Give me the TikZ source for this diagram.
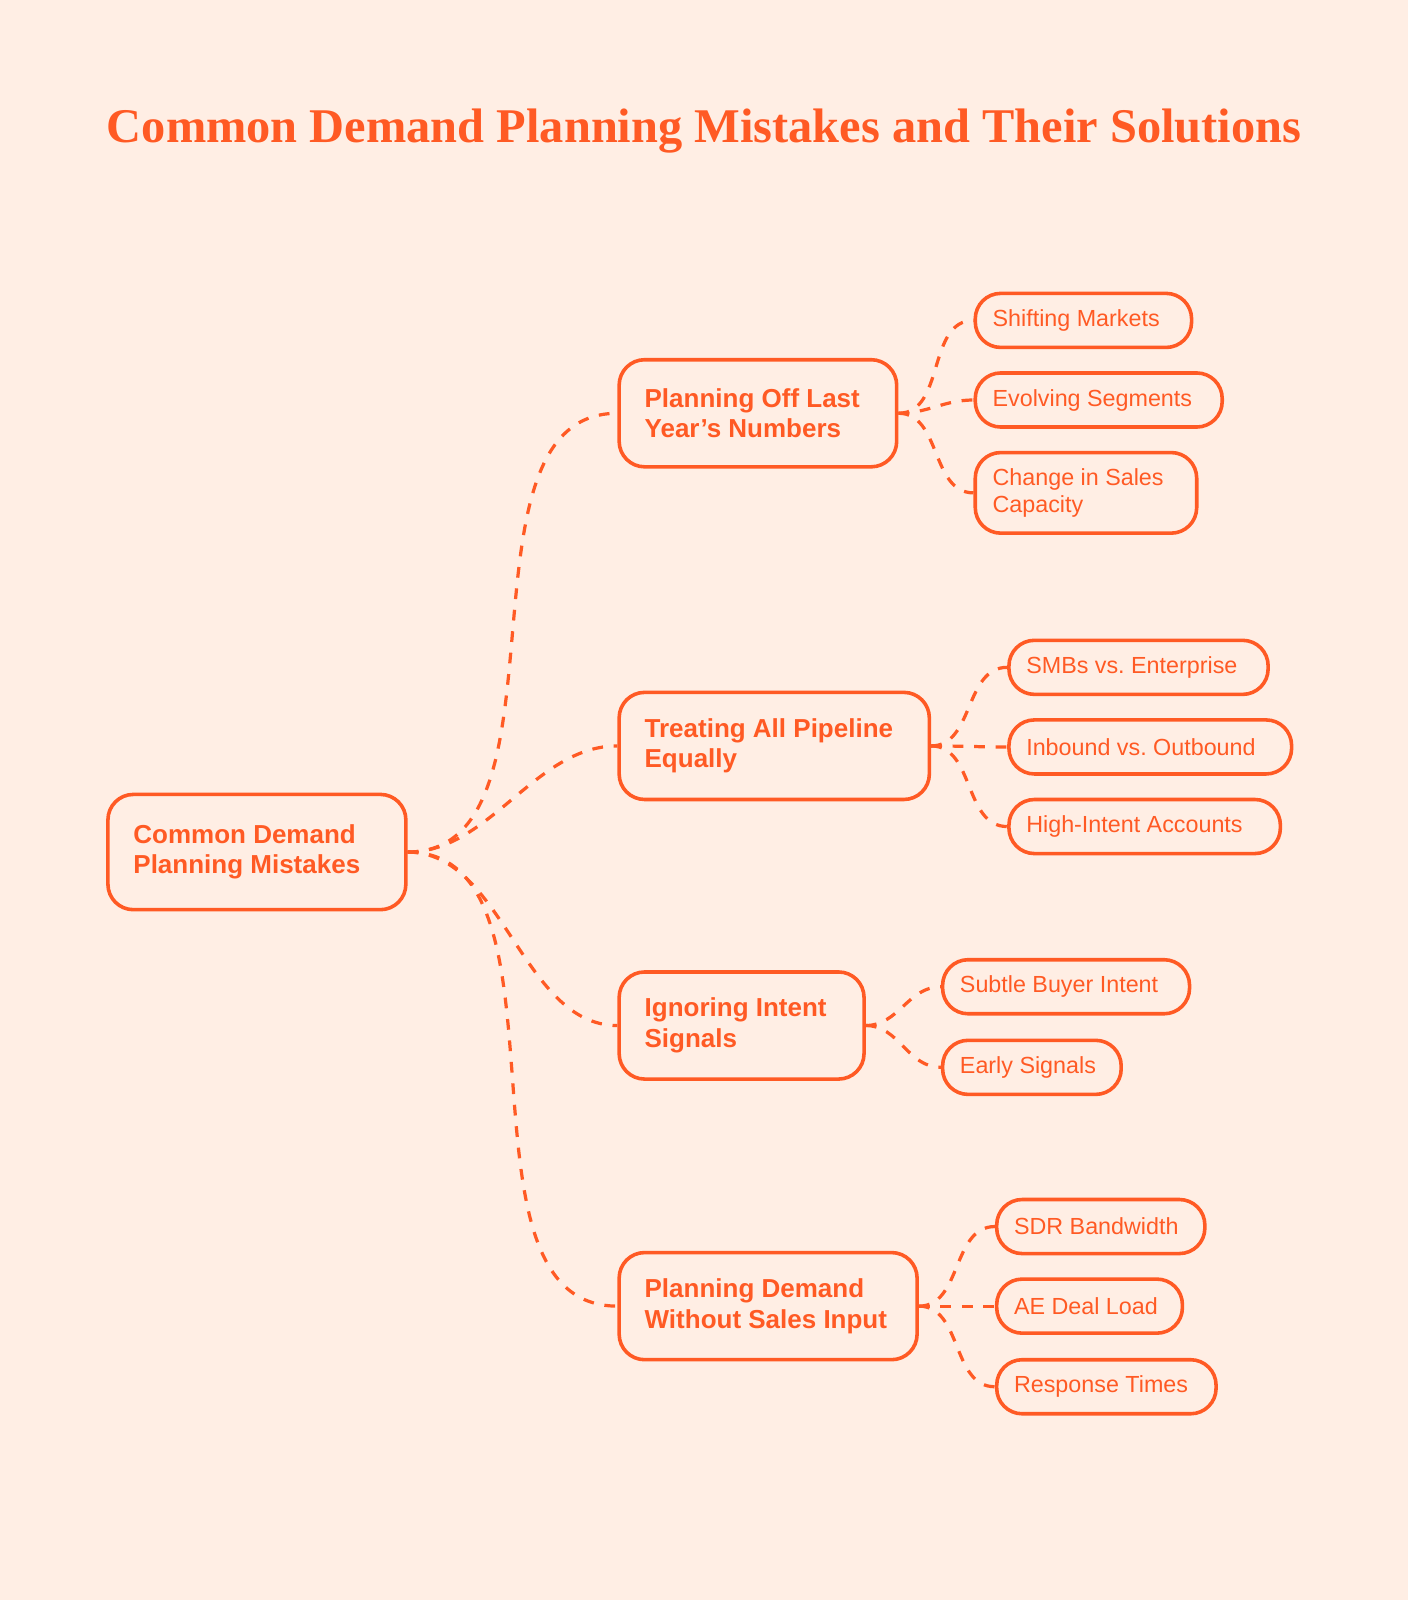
\documentclass[tikz,border=0pt]{standalone}
\usepackage{fontspec}
\setmainfont{Liberation Sans}
\newfontfamily\titlefont{Liberation Serif}
\definecolor{acc}{HTML}{FF5A24}
\definecolor{bg}{HTML}{FFEEE4}
\begin{document}
\begin{tikzpicture}[x=0.02cm,y=-0.02cm,
 base/.style={draw=acc,line width=2pt,rounded corners=0.5cm,text=acc,align=flush left,anchor=west,inner ysep=0pt},
 midbox/.style={base,font=\fontsize{14.5}{17}\selectfont\bfseries,inner xsep=0.5cm,text width=#1*0.02cm-1.0cm,minimum height=2.1cm},
 leaf/.style={base,font=\fontsize{13}{15}\selectfont,inner xsep=0.34cm,text width=#1*0.02cm-0.68cm,minimum height=1.06cm},
 conn/.style={draw=acc,line width=1.8pt,dash pattern=on 6pt off 6pt}]
\fill[bg] (0,0) rectangle (1380,1568);
\node[text=acc,font=\titlefont\fontsize{27}{32}\selectfont\bfseries] (title) at (690,128) {Common Demand Planning Mistakes and Their Solutions};
\node[midbox=292,minimum height=2.26cm] (root) at (104,835) {Common Demand\\Planning Mistakes};
\node[midbox=272] (m1) at (605,405) {Planning Off Last\\Year\symbol{39}s Numbers};
\node[midbox=304] (m2) at (605,731) {Treating All Pipeline\\Equally};
\node[midbox=240] (m3) at (605,1005) {Ignoring Intent\\Signals};
\node[midbox=292] (m4) at (605,1280) {Planning Demand\\Without Sales Input};
\node[leaf=212] (l1) at (954,314) {Shifting Markets};
\node[leaf=242] (l2) at (954,392) {Evolving Segments};
\node[leaf=217,minimum height=1.58cm] (l3) at (954,483) {Change in Sales\\Capacity};
\node[leaf=254] (l4) at (987,654) {SMBs vs.\ Enterprise};
\node[leaf=277] (l5) at (987,732) {Inbound vs.\ Outbound};
\node[leaf=266] (l6) at (987,810) {High-Intent Accounts};
\node[leaf=242] (l7) at (922,967) {Subtle Buyer Intent};
\node[leaf=175] (l8) at (922,1046) {Early Signals};
\node[leaf=204] (l9) at (975,1202) {SDR Bandwidth};
\node[leaf=182] (l10) at (975,1280) {AE Deal Load};
\node[leaf=215] (l11) at (975,1359) {Response Times};
\foreach \m in {m1,m2,m3,m4}
  \draw[conn] (root.east) to[out=0,in=180,looseness=0.9] (\m.west);
\foreach \m/\l in {m1/l1,m1/l2,m1/l3,m2/l4,m2/l5,m2/l6,m3/l7,m3/l8,m4/l9,m4/l10,m4/l11}
  \draw[conn] (\m.east) to[out=0,in=180] (\l.west);
\end{tikzpicture}
\end{document}
